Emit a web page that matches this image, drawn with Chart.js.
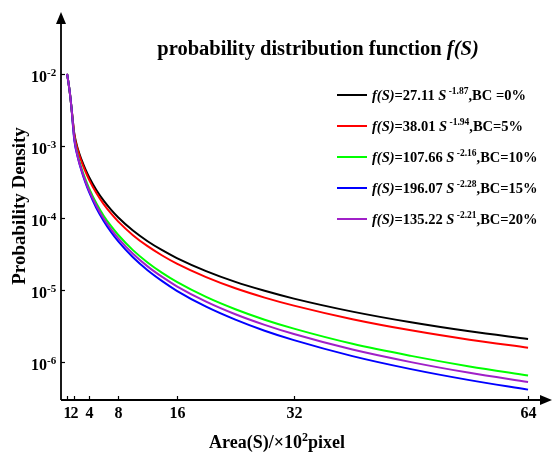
<!DOCTYPE html>
<html><head><meta charset="utf-8">
<script src="https://cdn.jsdelivr.net/npm/chart.js@4.4.0/dist/chart.umd.min.js"></script>
<style>html,body{margin:0;padding:0;background:#fff}#wrap{width:554px;height:452px}</style>
</head><body><div id="wrap"><canvas id="c" width="554" height="452"></canvas></div>
<script>
// ---- data ----
const areaValues = [1,1.2,1.4,1.6,1.8,2,2.5,3,3.5,4,5,6,7,8,10,12,14,16,20,24,28,32,40,48,56,64];
const densityBC0  = [1.00e-2,7.41e-3,5.25e-3,3.39e-3,2.19e-3,1.45e-3,8.89e-4,6.32e-4,4.74e-4,3.69e-4,2.43e-4,1.73e-4,1.30e-4,1.01e-4,6.65e-5,4.73e-5,3.55e-5,2.76e-5,1.82e-5,1.29e-5,9.70e-6,7.55e-6,4.98e-6,3.54e-6,2.65e-6,2.07e-6];
const densityBC5  = [1.00e-2,7.41e-3,5.25e-3,3.39e-3,2.14e-3,1.41e-3,8.47e-4,5.94e-4,4.41e-4,3.40e-4,2.21e-4,1.55e-4,1.15e-4,8.87e-5,5.75e-5,4.04e-5,3.00e-5,2.31e-5,1.50e-5,1.05e-5,7.80e-6,6.03e-6,3.91e-6,2.74e-6,2.03e-6,1.57e-6];
const densityBC10 = [1.00e-2,7.41e-3,5.25e-3,3.39e-3,2.00e-3,1.26e-3,7.13e-4,4.80e-4,3.44e-4,2.58e-4,1.59e-4,1.07e-4,7.71e-5,5.77e-5,3.56e-5,2.40e-5,1.72e-5,1.29e-5,7.98e-6,5.38e-6,3.85e-6,2.89e-6,1.78e-6,1.21e-6,8.63e-7,6.47e-7];
const densityBC15 = [1.00e-2,7.41e-3,5.25e-3,3.39e-3,1.91e-3,1.17e-3,6.68e-4,4.41e-4,3.10e-4,2.29e-4,1.37e-4,9.08e-5,6.38e-5,4.71e-5,2.83e-5,1.87e-5,1.32e-5,9.70e-6,5.83e-6,3.85e-6,2.70e-6,2.00e-6,1.20e-6,7.92e-7,5.57e-7,4.11e-7];
const densityBC20 = [1.00e-2,7.41e-3,5.25e-3,3.39e-3,2.00e-3,1.23e-3,6.79e-4,4.54e-4,3.23e-4,2.40e-4,1.47e-4,9.79e-5,6.97e-5,5.19e-5,3.17e-5,2.12e-5,1.51e-5,1.12e-5,6.86e-6,4.58e-6,3.26e-6,2.43e-6,1.48e-6,9.91e-7,7.03e-7,5.24e-7];
const fitCoefficients = ['27.11','38.01','107.66','196.07','135.22'];
const fitExponents = ['-1.87','-1.94','-2.16','-2.28','-2.21'];
const bcLabels = [',BC =0%',',BC=5%',',BC=10%',',BC=15%',',BC=20%'];
const xTickValues = [1,2,4,8,16,32,64];
const yTickValues = [1e-2,1e-3,1e-4,1e-5,1e-6];
const yTickExponents = ['-2','-3','-4','-5','-6'];
const titleText = 'probability distribution function ';
const xTitleParts = ['Area(S)/\u00d710','2','pixel'];
const yTitleText = 'Probability Density';

const colors = ['#000000','#ff0000','#00ff00','#0000ff','#a020c8'];
const seriesList = [densityBC0,densityBC5,densityBC10,densityBC15,densityBC20];
const SERIF = '"Liberation Serif","Times New Roman",serif';

const datasets = seriesList.map((s,i)=>({
  label: 'f(S)='+fitCoefficients[i]+' S'+fitExponents[i]+bcLabels[i],
  data: areaValues.map((x,j)=>({x:x,y:s[j]})),
  borderColor: colors[i], backgroundColor: colors[i],
  borderWidth: 2, pointRadius: 0, fill:false,
  cubicInterpolationMode:'monotone', order: 5-i
}));

function runs(ctx, x, y, parts){
  let cx = x;
  parts.forEach(p=>{ctx.font=p[1]; ctx.fillText(p[0], cx, y+(p[2]||0)); cx += ctx.measureText(p[0]).width;});
  return cx;
}
function runsWidth(ctx, parts){
  let w=0; parts.forEach(p=>{ctx.font=p[1]; w+=ctx.measureText(p[0]).width;}); return w;
}

const deco = {
  id:'deco',
  afterDraw(chart){
    const ctx=chart.ctx, xs=chart.scales.x, ys=chart.scales.y, a=chart.chartArea;
    const x0=a.left, y0=a.bottom;
    ctx.save();
    ctx.strokeStyle='#000'; ctx.fillStyle='#000'; ctx.lineWidth=1.8;
    // axes
    ctx.beginPath(); ctx.moveTo(x0,y0); ctx.lineTo(x0,a.top+8); ctx.stroke();
    ctx.beginPath(); ctx.moveTo(x0,a.top); ctx.lineTo(x0-5,a.top+12); ctx.lineTo(x0+5,a.top+12); ctx.closePath(); ctx.fill();
    ctx.beginPath(); ctx.moveTo(x0,y0); ctx.lineTo(a.right-6,y0); ctx.stroke();
    ctx.beginPath(); ctx.moveTo(a.right+2,y0); ctx.lineTo(a.right-10,y0-5); ctx.lineTo(a.right-10,y0+5); ctx.closePath(); ctx.fill();
    ctx.lineWidth=1.2;
    // x ticks
    ctx.textAlign='center'; ctx.textBaseline='alphabetic';
    xTickValues.forEach(v=>{
      const px=Math.round(xs.getPixelForValue(v))+0.5;
      ctx.beginPath(); ctx.moveTo(px,y0); ctx.lineTo(px,y0-4); ctx.stroke();
      ctx.font='bold 16px '+SERIF;
      ctx.fillText(String(v), px, y0+18);
    });
    // y ticks
    yTickValues.forEach((v,i)=>{
      const py=Math.round(ys.getPixelForValue(v))+0.5;
      ctx.beginPath(); ctx.moveTo(x0,py); ctx.lineTo(x0+4,py); ctx.stroke();
      ctx.textAlign='right'; ctx.font='bold 16px '+SERIF;
      ctx.fillText('10', 47, py+7);
      ctx.textAlign='left'; ctx.font='bold 11px '+SERIF;
      ctx.fillText(yTickExponents[i], 47, py+1);
    });
    // title
    ctx.textAlign='left';
    const tParts=[[titleText,'bold 20.5px '+SERIF],['f(S)','italic bold 20.5px '+SERIF]];
    const tw=runsWidth(ctx,tParts);
    runs(ctx, 318-tw/2, 55, tParts);
    // x title
    const xParts=[[xTitleParts[0],'bold 18px '+SERIF],[xTitleParts[1],'bold 12px '+SERIF,-7],[xTitleParts[2],'bold 18px '+SERIF]];
    const xw=runsWidth(ctx,xParts);
    runs(ctx, 277-xw/2, 448, xParts);
    // y title
    ctx.save(); ctx.translate(25,206); ctx.rotate(-Math.PI/2);
    ctx.textAlign='center'; ctx.font='bold 19px '+SERIF;
    ctx.fillText(yTitleText,0,0); ctx.restore();
    // legend
    chart.data.datasets.forEach((d,i)=>{
      const cy=95+i*31;
      ctx.strokeStyle=d.borderColor; ctx.lineWidth=2;
      ctx.beginPath(); ctx.moveTo(337,cy); ctx.lineTo(367,cy); ctx.stroke();
      ctx.fillStyle='#000'; ctx.textAlign='left';
      runs(ctx, 372, cy+5, [
        ['f(S)','italic bold 14.5px '+SERIF],
        ['='+fitCoefficients[i]+' ','bold 14.5px '+SERIF],
        ['S','italic bold 14.5px '+SERIF],
        [' '+fitExponents[i],'bold 9.5px '+SERIF,-6],
        [bcLabels[i],'bold 14.5px '+SERIF]
      ]);
    });
    ctx.restore();
  }
};

new Chart(document.getElementById('c'),{
  type:'line',
  data:{datasets:datasets},
  options:{
    responsive:false, animation:false, devicePixelRatio:1,
    layout:{padding:{left:61,right:4,top:12,bottom:52}},
    plugins:{legend:{display:false},tooltip:{enabled:false}},
    scales:{
      x:{type:'linear',min:0.17,max:67,display:false},
      y:{type:'logarithmic',min:2.95e-7,max:0.0723,display:false}
    }
  },
  plugins:[deco]
});
</script></body></html>
